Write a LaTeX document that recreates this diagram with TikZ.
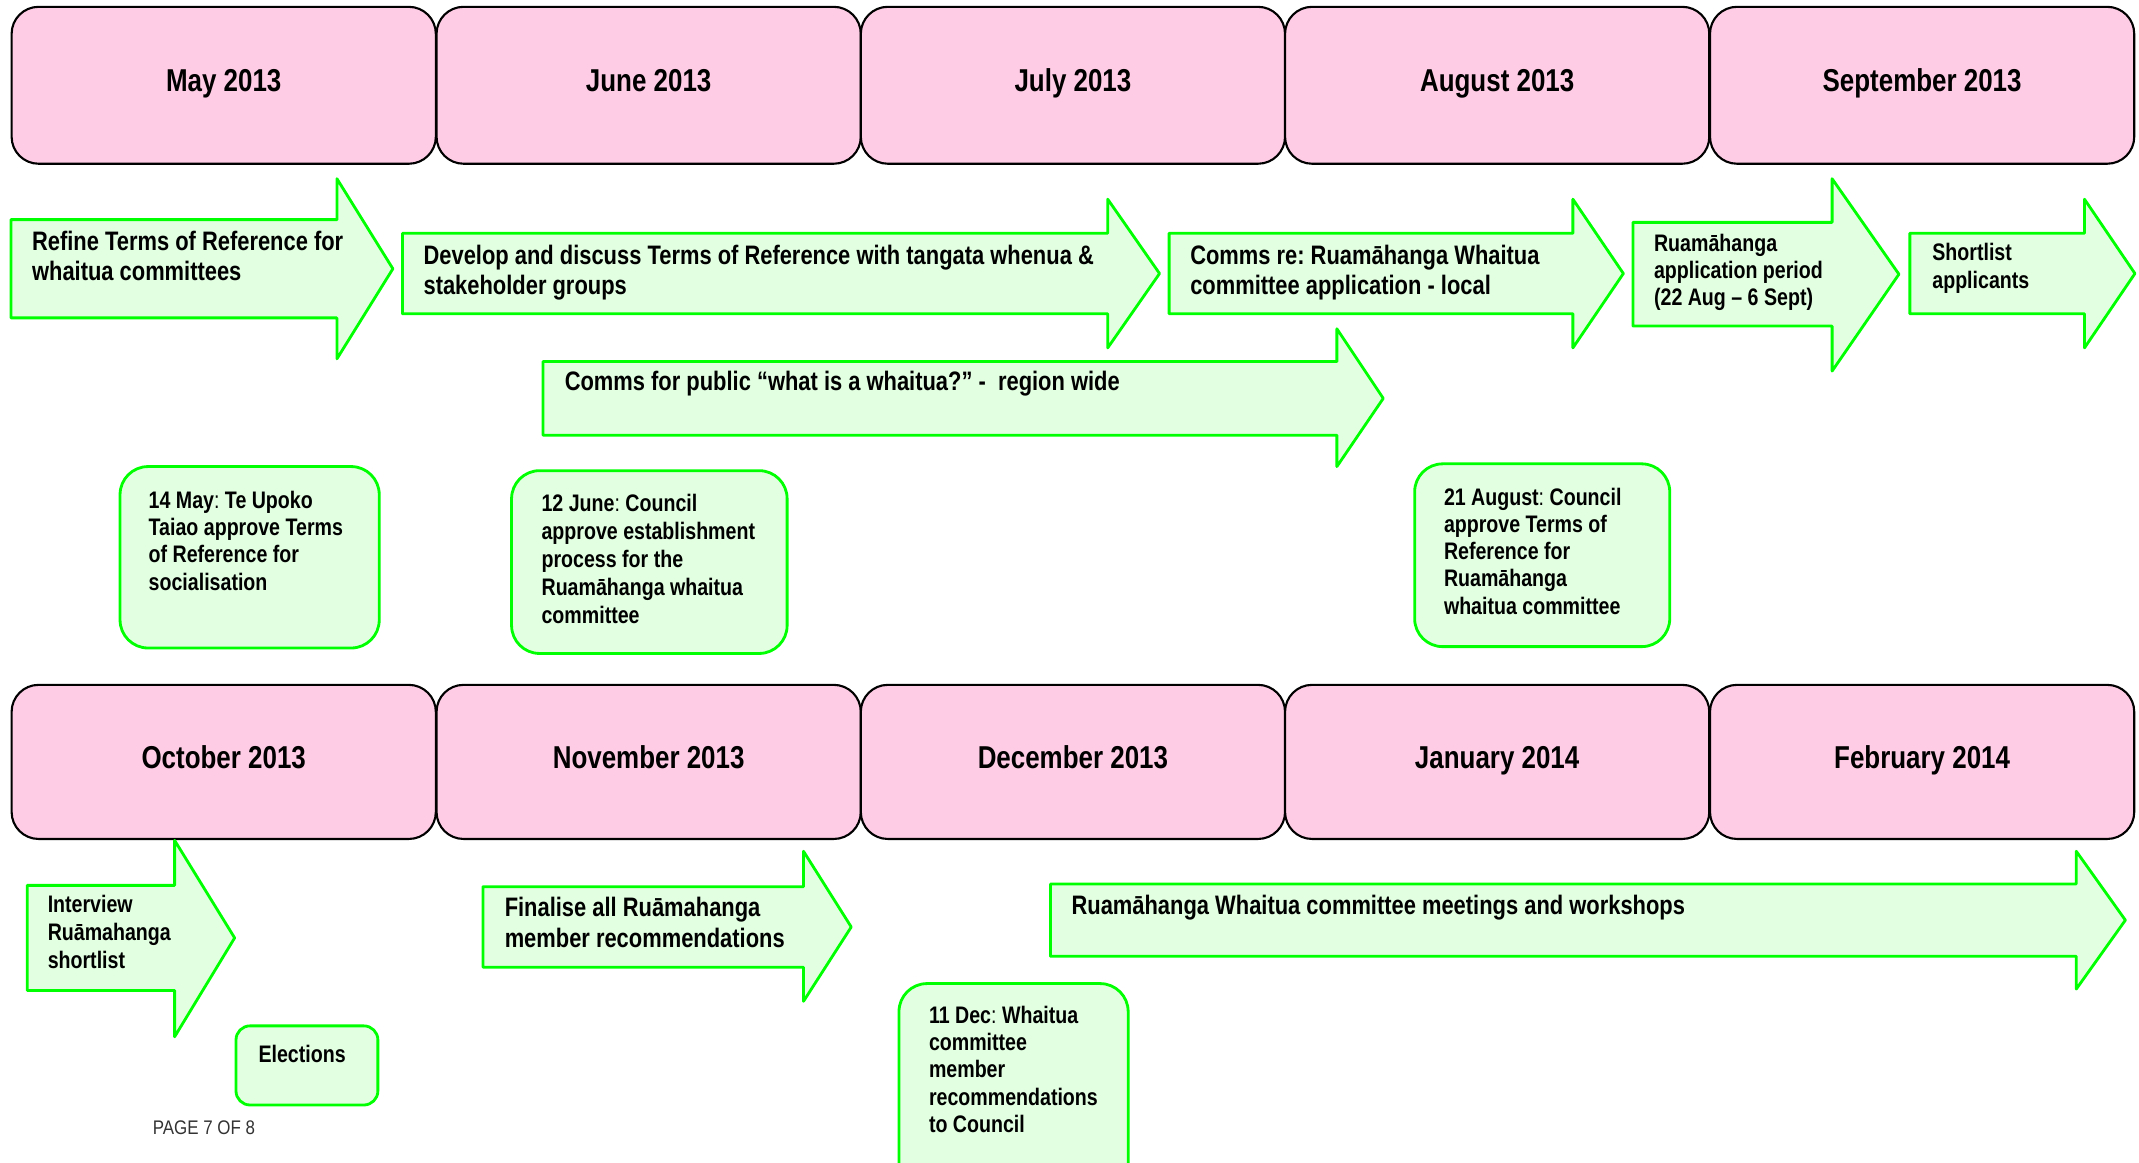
\documentclass[tikz,border=0pt]{standalone}
\usepackage{fontspec}
\setmainfont{Liberation Sans}[FakeStretch=0.82]
\newfontfamily\pagefont{Liberation Sans}[FakeStretch=0.86]
\usepackage{tikz}
\definecolor{monthpink}{RGB}{255,204,229}
\definecolor{taskgreen}{RGB}{0,255,0}
\definecolor{taskfill}{RGB}{226,255,226}

\begin{document}
\frenchspacing
\begin{tikzpicture}[x=0.01364cm, y=-0.01364cm, line join=round,
  month/.style={draw=black, line width=0.6pt, fill=monthpink, rounded corners=2.7mm,
    minimum width=4.242cm, minimum height=1.569cm, inner sep=0pt,
    text height=6.5pt, text depth=2.8pt,
    font=\fontsize{9}{11}\selectfont\bfseries},
  task/.style={draw=taskgreen, line width=0.8pt, fill=taskfill},
  event/.style={task, rounded corners=2.8mm},
  tasktext/.style={anchor=north west, inner sep=0pt, align=left,
    font=\fontsize{7.6}{8.5}\selectfont\bfseries},
  smalltext/.style={tasktext, font=\fontsize{6.8}{7.75}\selectfont\bfseries}]
\useasboundingbox (0,0) rectangle (1568,852);
\node[month] (may) at (164,62.5) {May 2013};
\node[month] (jun) at (475.5,62.5) {June 2013};
\node[month] (jul) at (786.5,62.5) {July 2013};
\node[month] (aug) at (1097.5,62.5) {August 2013};
\node[month] (sep) at (1409,62.5) {September 2013};
\node[month, minimum height=1.541cm] (oct) at (164,558.5) {October 2013};
\node[month, minimum height=1.541cm] (nov) at (475.5,558.5) {November 2013};
\node[month, minimum height=1.541cm] (dec) at (786.5,558.5) {December 2013};
\node[month, minimum height=1.541cm] (jan) at (1097.5,558.5) {January 2014};
\node[month, minimum height=1.541cm] (feb) at (1409,558.5) {February 2014};
\draw[task] (8,161) -- (247,161) -- (247,131) -- (288,197) -- (247,263) -- (247,233) -- (8,233) -- cycle;
\draw[task] (295,171) -- (812,171) -- (812,146) -- (850,200.5) -- (812,255) -- (812,230) -- (295,230) -- cycle;
\draw[task] (857,171) -- (1153,171) -- (1153,146) -- (1190,200.5) -- (1153,255) -- (1153,230) -- (857,230) -- cycle;
\draw[task] (1197,163) -- (1343,163) -- (1343,131) -- (1392,201) -- (1343,272) -- (1343,239) -- (1197,239) -- cycle;
\draw[task] (1400,171) -- (1528,171) -- (1528,146) -- (1565,200.5) -- (1528,255) -- (1528,230) -- (1400,230) -- cycle;
\draw[task] (398,265) -- (980,265) -- (980,241) -- (1014,292) -- (980,342) -- (980,319) -- (398,319) -- cycle;
\draw[task] (20,649) -- (128,649) -- (128,616) -- (172,687.5) -- (128,760) -- (128,726) -- (20,726) -- cycle;
\draw[task] (354,650) -- (589,650) -- (589,624) -- (624,679.5) -- (589,734) -- (589,709) -- (354,709) -- cycle;
\draw[task] (770,648) -- (1522,648) -- (1522,624) -- (1558,674.5) -- (1522,725) -- (1522,701) -- (770,701) -- cycle;
\draw[event] (88,342) rectangle (278,475);
\draw[event] (375,345) rectangle (577,479);
\draw[event] (1037,340) rectangle (1224,474);
\draw[event, rounded corners=1.4mm] (173,752) rectangle (277,810);
\draw[event] (659,721) rectangle (827,880);
\node[tasktext] (refine) at (23,169) {Refine Terms of Reference for\\whaitua committees};
\node[tasktext] (develop) at (310,179) {Develop and discuss Terms of Reference with tangata whenua \&\\stakeholder groups};
\node[tasktext] (commslocal) at (872,179) {Comms re: Ruamāhanga Whaitua\\committee application - local};
\node[smalltext] (appperiod) at (1212,171) {Ruamāhanga\\application period\\(22 Aug – 6 Sept)};
\node[smalltext, font=\fontsize{6.8}{8.1}\selectfont\bfseries] (shortlist) at (1416,177.5) {Shortlist\\applicants};
\node[tasktext] (commspublic) at (413.5,271.5) {Comms for public “what is a whaitua?” -\ \ region wide};
\node[smalltext, font=\fontsize{6.8}{7.95}\selectfont\bfseries] (interview) at (34.5,655.5) {Interview\\Ruāmahanga\\shortlist};
\node[tasktext, font=\fontsize{7.6}{8.9}\selectfont\bfseries] (finalise) at (369.5,657) {Finalise all Ruāmahanga\\member recommendations};
\node[tasktext] (meetings) at (785,655.5) {Ruamāhanga Whaitua committee meetings and workshops};
\node[smalltext] (may14) at (108.5,359.5) {14 May{\mdseries:} Te Upoko\\Taiao approve Terms\\of Reference for\\socialisation};
\node[smalltext, font=\fontsize{6.8}{7.95}\selectfont\bfseries] (jun12) at (396.5,362) {12 June{\mdseries:} Council\\approve establishment\\process for the\\Ruamāhanga whaitua\\committee};
\node[smalltext] (aug21) at (1058,357) {21 August{\mdseries:} Council\\approve Terms of\\Reference for\\Ruamāhanga\\whaitua committee};
\node[smalltext] (elections) at (189,765.5) {Elections};
\node[smalltext] (dec11) at (680.5,737) {11 Dec{\mdseries:} Whaitua\\committee\\member\\recommendations\\to Council};
\node[anchor=west, inner sep=0pt, text=black!80, font=\pagefont\fontsize{5.6}{6.5}\selectfont] (pageno) at (111.5,827) {PAGE 7 OF 8};
\end{tikzpicture}
\end{document}
